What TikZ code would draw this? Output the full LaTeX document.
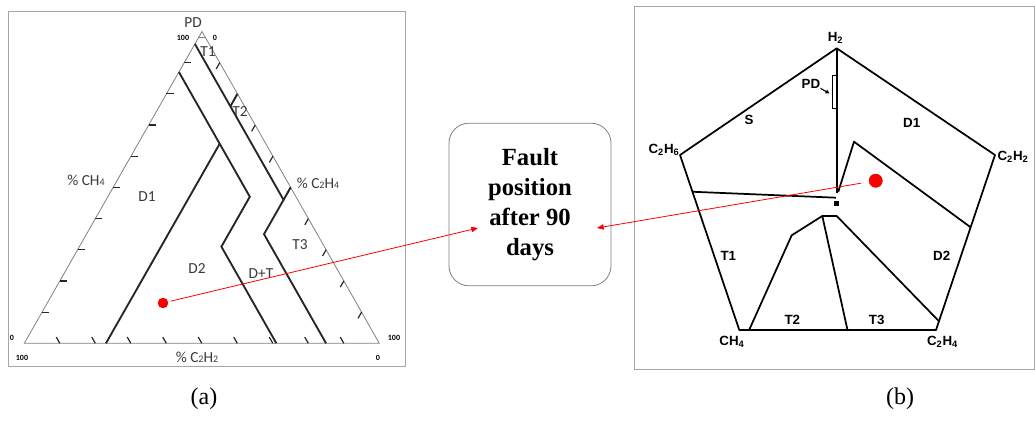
\documentclass[tikz,border=0pt]{standalone}
\usepackage{fontspec}
\setmainfont{Liberation Serif}
\newfontfamily\calfont{Carlito}
\newfontfamily\arialfont{Liberation Sans}
\usepackage{tikz}
\usetikzlibrary{arrows.meta, calc, positioning}
\definecolor{framegray}{HTML}{A6A6A6}
\definecolor{axisgray}{HTML}{808080}
\definecolor{labelgray}{HTML}{3A3A3A}
\definecolor{faultred}{HTML}{FF0000}
\newcommand{\lsub}[1]{{\fontsize{7.5}{8}\selectfont #1}}

\begin{document}
\begin{tikzpicture}[x=0.75pt, y=-0.75pt,
    panel/.style={draw=framegray, line width=0.6pt},
    axisline/.style={draw=axisgray, line width=0.6pt},
    tickmark/.style={draw=black!85, line width=0.9pt},
    zoneline/.style={draw=black!85, line width=1.4pt},
    pentaline/.style={draw=black, line width=1.3pt, line join=round},
    tlabel/.style={font=\calfont\fontsize{11.5}{13}\selectfont, text=labelgray, inner sep=0pt},
    tnum/.style={font=\calfont\bfseries\fontsize{6}{7}\selectfont, inner sep=0pt},
    plabel/.style={font=\arialfont\bfseries\fontsize{10}{11}\selectfont, inner sep=0pt},
    faultdot/.style={circle, fill=faultred, draw=faultred!80!black, line width=0.3pt, inner sep=0pt},
    faultarrow/.style={draw=faultred, line width=0.6pt, shorten <=2pt,
      -{Triangle[length=5pt, width=4pt]}},
    faultbox/.style={draw=axisgray, line width=0.6pt, rounded corners=15pt,
      minimum width=121.5pt, minimum height=122pt, align=center,
      font=\bfseries\fontsize{18.5}{22.5}\selectfont},
    caption/.style={font=\fontsize{18}{20}\selectfont, inner sep=0pt}]
  \useasboundingbox (0,0) rectangle (1035,423);

  %% Duval triangle, panel (a)
  \draw[panel] (8.3,11) rectangle (405,366.7);
  \begin{scope}[shift={(24.3,343.3)}, x={(2.6625pt,0pt)}, y={(1.3328pt,2.3385pt)}]
    %% outer triangle, coordinates are (% C2H4, % CH4)
    \draw[axisline] (0,0) -- (100,0) -- (0,100) -- cycle;
    \draw[axisline] (0,98) -- (2,98);

    %% ticks every 10 %
    \foreach \t in {10,20,...,90} {
      \draw[tickmark] (0,\t) -- ++(2,0);
      \draw[tickmark] (\t,0) -- ++(-2,2);
      \draw[tickmark] (\t,100-\t) -- ++(0,-2);
    }

    %% zone boundaries
    \draw[zoneline] (0,96) -- (50,46) -- (50,35) -- (85,0);
    \draw[zoneline] (50,50) -- (50,46);
    \draw[zoneline] (20,80) -- (20,76);
    \draw[zoneline] (0,87) -- (40,47) -- (40,31) -- (71,0);
    \draw[zoneline] (23,64) -- (23,0);
  \end{scope}

  \node[tlabel] (pd) at (193,23) {PD};
  \node[tnum] (topmax) at (183,38) {100};
  \node[tnum] (topmin) at (215,38) {0};
  \node[tnum] (leftmin) at (12,338) {0};
  \node[tnum] (leftmax) at (22,358) {100};
  \node[tnum] (rightmax) at (394,338) {100};
  \node[tnum] (rightmin) at (378,358) {0};
  \node[tlabel] (ch4axis) at (86,180) {\% CH\lsub{4}};
  \node[tlabel] (c2h4axis) at (318,183) {\% C\lsub{2}H\lsub{4}};
  \node[tlabel] (c2h2axis) at (197,357) {\% C\lsub{2}H\lsub{2}};
  \node[tlabel] (t1a) at (208,52) {T1};
  \node[tlabel] (t2a) at (240,112) {T2};
  \node[tlabel] (d1a) at (147,197) {D1};
  \node[tlabel] (d2a) at (197,269) {D2};
  \node[tlabel] (dta) at (261,274) {D+T};
  \node[tlabel] (t3a) at (300,245) {T3};
  \node[faultdot, minimum size=7.5pt] (dotA) at (163,303) {};

  %% middle box
  \node[faultbox] (fault) at (530,204.5) {Fault\\position\\after 90\\days};
  \coordinate (tipA) at (478,228);
  \coordinate (tipB) at (597,228);

  %% Duval pentagon, panel (b)
  \draw[panel] (634,6.7) rectangle (1034.3,369.3);
  \coordinate (h2) at (836.7,48.3);
  \coordinate (c2h2) at (995,155);
  \coordinate (c2h4) at (936,330);
  \coordinate (ch4) at (739.3,330);
  \coordinate (c2h6) at (680,155);
  \coordinate (mid) at (836.7,193.3);

  \draw[pentaline] (h2) -- (c2h2) -- (c2h4) -- (ch4) -- (c2h6) -- cycle;
  \draw[pentaline] (h2) -- (mid);
  \draw[pentaline] ($(c2h6)!0.21!(ch4)$) -- (836,197.7);
  \draw[pentaline] (838.3,191.7) -- (854,141.7) -- ($(c2h4)!0.587!(c2h2)$);
  \draw[pentaline] ($(c2h4)!0.05!(c2h2)$) -- (836.7,216) -- (822.3,216)
    -- (791.7,235.3) -- ($(ch4)!0.05!(c2h4)$);
  \draw[pentaline] (822.3,216) -- ($(ch4)!0.55!(c2h4)$);
  \draw[line width=0.6pt] (832.3,75) rectangle (836.7,108.3);
  \fill (834,200.6) rectangle (839.4,206);

  \node[plabel] (h2lab) at (835.5,37.5) {H\textsubscript{2}};
  \node[plabel] (c2h6lab) at (664,150) {C\textsubscript{2}H\textsubscript{6}};
  \node[plabel] (c2h2lab) at (1013,157) {C\textsubscript{2}H\textsubscript{2}};
  \node[plabel] (ch4lab) at (732,342) {CH\textsubscript{4}};
  \node[plabel] (c2h4lab) at (942.5,342) {C\textsubscript{2}H\textsubscript{4}};
  \node[plabel] (pdb) at (811,83.5) {PD};
  \coordinate (pdtip) at (829.5,93.5);
  \draw[line width=0.8pt, -{Triangle[length=3pt, width=3pt]}] (pdb.south east) -- (pdtip);
  \node[plabel] (sb) at (749,120) {S};
  \node[plabel] (d1b) at (911.7,123.3) {D1};
  \node[plabel] (t1b) at (728.3,255.7) {T1};
  \node[plabel] (d2b) at (941.7,255.7) {D2};
  \node[plabel] (t2b) at (792.3,320) {T2};
  \node[plabel] (t3b) at (876.7,320) {T3};
  \node[faultdot, minimum size=10pt] (dotB) at (875.7,180.7) {};

  %% arrows to the box
  \draw[faultarrow] (dotA) -- (tipA);
  \draw[faultarrow, shorten <=6pt] (dotB) -- (tipB);

  %% captions
  \node[caption] (capA) at (204,399) {(a)};
  \node[caption] (capB) at (900,399) {(b)};
\end{tikzpicture}
\end{document}
